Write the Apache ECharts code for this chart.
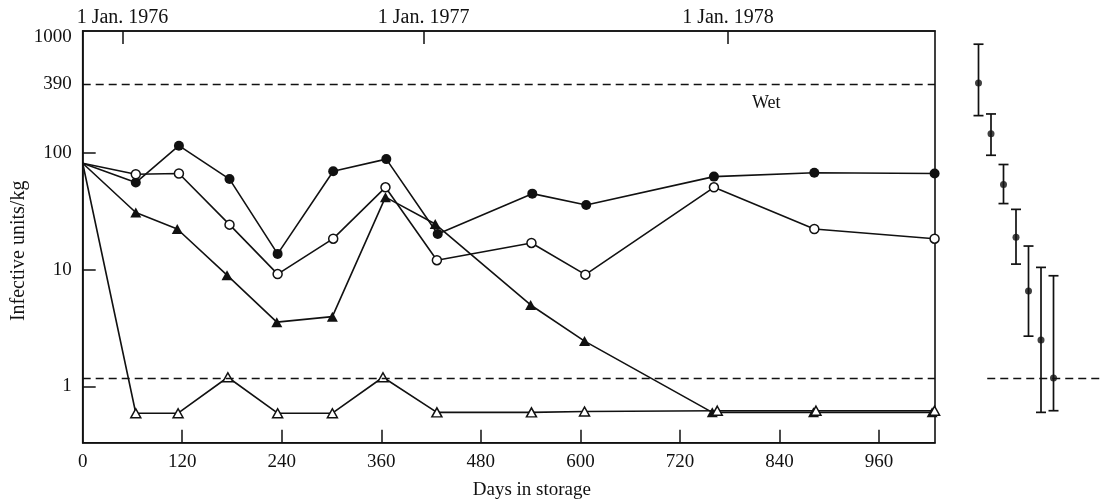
<!DOCTYPE html>
<html><head><meta charset="utf-8">
<script src="https://cdn.jsdelivr.net/npm/echarts@6/dist/echarts.min.js"></script>
<style>html,body{margin:0;padding:0;background:#fff}#c{width:1101px;height:504px}</style>
</head><body><div id="c"></div>
<script>
// ---- data ----
const daysFilledCircle = [0, 64, 116, 177, 235, 302, 366, 428, 542, 607, 761, 882, 1027];
const daysOpenCircle   = [0, 64, 116, 177, 235, 302, 365, 427, 541, 606, 761, 882, 1027];
const daysFilledTri    = [0, 64, 114, 174, 234, 301, 365, 425, 540, 605, 759, 881, 1024];
const daysOpenTri      = [0, 64, 115, 175, 235, 301, 362, 427, 541, 605, 765, 884, 1027];
const filledCircle   = [82, 56, 116, 60, 13.7, 70, 89, 20.3, 45, 36, 63, 68, 67];
const openCircle     = [82, 66, 67, 24.4, 9.2, 18.5, 51, 12.1, 17, 9.1, 51, 22.4, 18.5];
const filledTriangle = [82, 31, 22.4, 9.0, 3.56, 3.97, 42, 24.7, 5.0, 2.45, 0.6, 0.6, 0.6];
const openTriangle   = [82, 0.59, 0.59, 1.2, 0.59, 0.59, 1.2, 0.6, 0.6, 0.61, 0.62, 0.62, 0.62];
const refLines = [390, 1.17];
const yLabelValues = [1, 10, 100, 390, 1000];
const yTickValues = [1, 10, 100];
const xLabelValues = [0, 120, 240, 360, 480, 600, 720, 840, 960];
const xTickValues = [120, 240, 360, 480, 600, 720, 840, 960];
const dateTicks = [48, 411, 778];
const dateLabels = ['1 Jan. 1976', '1 Jan. 1977', '1 Jan. 1978'];
const wetPos = [824, 269];
// right panel (error bars)
const rightIdx  = [1, 2, 3, 4, 5, 6, 7];
const rightMid  = [400, 147, 54, 19, 6.6, 2.5, 1.18];
const rightHigh = [860, 217, 80, 33, 16, 10.5, 8.9];
const rightLow  = [210, 96, 37, 11.2, 2.7, 0.6, 0.62];
const rightRef = [1.7, 10.8, 1.17];

// ---- chart ----
const FONT = 'Liberation Serif';
const INK = '#111';
const Y_MIN = 0.3297, Y_MAX = 1116, X_MAX = 1027.5;

function lineData(d, v) {
  return d.map((x, i) => i === 0 ? { value: [x, v[i]], symbol: 'none' } : [x, v[i]]);
}
function mkSeries(d, v, symbol, size, fill) {
  return {
    type: 'line', xAxisIndex: 0, yAxisIndex: 0, clip: false,
    data: lineData(d, v), symbol: symbol, symbolSize: size, showAllSymbol: true,
    lineStyle: { color: INK, width: 1.6 },
    itemStyle: { color: fill, borderColor: INK, borderWidth: fill === '#fff' ? 1.5 : 0 },
    z: 3
  };
}

const chart = echarts.init(document.getElementById('c'), null, { renderer: 'canvas' });
const series = [
  mkSeries(daysFilledCircle, filledCircle, 'circle', 10, INK),
  mkSeries(daysOpenCircle, openCircle, 'circle', 9, '#fff'),
  mkSeries(daysFilledTri, filledTriangle, 'triangle', [11, 10], INK),
  mkSeries(daysOpenTri, openTriangle, 'triangle', [10, 9], '#fff')
];
series[0].markLine = {
  silent: true, symbol: 'none', animation: false,
  label: { show: false },
  lineStyle: { color: INK, type: [8, 5], width: 1.3 },
  data: refLines.map(v => ({ yAxis: v }))
};
series[0].markPoint = {
  silent: true, animation: false, symbol: 'circle', symbolSize: 0,
  label: { show: true, position: 'inside', formatter: 'Wet', color: INK, fontFamily: FONT, fontSize: 18 },
  data: [{ coord: wetPos }]
};
series.push({
  type: 'custom', xAxisIndex: 2, yAxisIndex: 1,
  data: rightIdx.map((x, i) => [x, rightLow[i], rightHigh[i]]),
  encode: { x: 0, y: [1, 2] },
  renderItem: function (params, api) {
    const x = api.value(0);
    const pLo = api.coord([x, api.value(1)]);
    const pHi = api.coord([x, api.value(2)]);
    const w = 5, st = { stroke: INK, lineWidth: 1.7 };
    return { type: 'group', children: [
      { type: 'line', shape: { x1: pLo[0], y1: pLo[1], x2: pHi[0], y2: pHi[1] }, style: st },
      { type: 'line', shape: { x1: pHi[0] - w, y1: pHi[1], x2: pHi[0] + w, y2: pHi[1] }, style: st },
      { type: 'line', shape: { x1: pLo[0] - w, y1: pLo[1], x2: pLo[0] + w, y2: pLo[1] }, style: st }
    ] };
  },
  markLine: {
    silent: true, symbol: 'none', animation: false, label: { show: false },
    lineStyle: { color: INK, type: [8, 5], width: 1.3 },
    data: [[{ coord: [rightRef[0], rightRef[2]] }, { coord: [rightRef[1], rightRef[2]] }]]
  }
});
series.push({
  type: 'scatter', xAxisIndex: 2, yAxisIndex: 1,
  data: rightIdx.map((x, i) => [x, rightMid[i]]),
  symbol: 'circle', symbolSize: 7, itemStyle: { color: INK }, z: 4
});

chart.setOption({
  animation: false,
  backgroundColor: '#fff',
  textStyle: { fontFamily: FONT, color: INK },
  grid: [
    { left: 82.7, top: 31, width: 852.3, height: 411.7, show: true, borderColor: INK, borderWidth: 1.6,
      containLabel: false, outerBoundsMode: 'none' },
    { left: 966, top: 31, width: 135, height: 411.7, show: false, outerBoundsMode: 'none' }
  ],
  xAxis: [
    {
      type: 'value', gridIndex: 0, position: 'bottom', min: 0, max: X_MAX,
      axisLine: { show: true, lineStyle: { color: INK, width: 1.6 } },
      axisTick: { show: true, inside: true, length: 13, customValues: xTickValues, lineStyle: { color: INK, width: 1.5 } },
      axisLabel: { customValues: xLabelValues, margin: 10, color: INK, fontFamily: FONT, fontSize: 19 },
      splitLine: { show: false },
      name: 'Days in storage', nameLocation: 'middle', nameGap: 38, nameMoveOverlap: false,
      nameTextStyle: { fontFamily: FONT, fontSize: 19, color: INK, padding: [0, 0, 0, 46] }
    },
    {
      type: 'value', gridIndex: 0, position: 'top', min: 0, max: X_MAX,
      axisLine: { show: true, lineStyle: { color: INK, width: 1.6 } },
      axisTick: { show: true, inside: true, length: 13, customValues: dateTicks, lineStyle: { color: INK, width: 1.5 } },
      axisLabel: { customValues: dateTicks, margin: 3, color: INK, fontFamily: FONT, fontSize: 20,
        formatter: v => { const i = dateTicks.indexOf(v); return i >= 0 ? dateLabels[i] : ''; } },
      splitLine: { show: false }
    },
    { type: 'value', gridIndex: 1, min: 0, max: 10.8, show: false }
  ],
  yAxis: [
    {
      type: 'log', gridIndex: 0, min: Y_MIN, max: Y_MAX, logBase: 10,
      axisLine: { show: true, lineStyle: { color: INK, width: 1.6 } },
      axisTick: { show: true, inside: true, length: 13, customValues: yTickValues, lineStyle: { color: INK, width: 1.5 } },
      axisLabel: { customValues: yLabelValues, margin: 11, color: INK, fontFamily: FONT, fontSize: 19,
        formatter: v => String(Math.round(v)) },
      splitLine: { show: false },
      name: 'Infective units/kg', nameLocation: 'middle', nameGap: 54, nameMoveOverlap: false,
      nameTextStyle: { fontFamily: FONT, fontSize: 20, color: INK, padding: [0, 28, 0, 0] }
    },
    { type: 'log', gridIndex: 1, min: Y_MIN, max: Y_MAX, logBase: 10, show: false }
  ],
  series: series
});
</script>
</body></html>
